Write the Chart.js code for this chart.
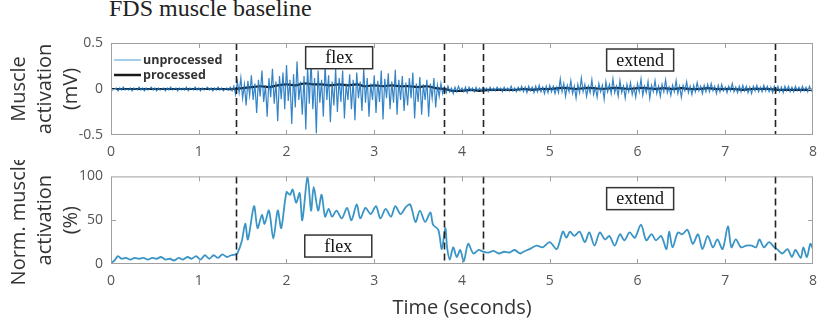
<!DOCTYPE html>
<html>
<head>
<meta charset="utf-8">
<title>FDS muscle baseline</title>
<script src="https://cdn.jsdelivr.net/npm/chart.js@4/dist/chart.umd.min.js"></script>
<style>
  html, body { margin: 0; padding: 0; background: #fff; }
  #wrap { position: relative; width: 826px; height: 321px; overflow: hidden; }
  #wrap canvas { position: absolute; left: 0; }
  #topChart { top: 0; }
  #bottomChart { top: 160px; }
  #title { position: absolute; left: 109px; top: -5px; font: 24px "Liberation Serif", "Times New Roman", serif; color: #222; white-space: nowrap; }
</style>
</head>
<body>
<div id="wrap">
  <div id="title">FDS muscle baseline</div>
  <canvas id="topChart" width="826" height="160"></canvas>
  <canvas id="bottomChart" width="826" height="161"></canvas>
</div>
<script>
// --- data ---
const xTicks = [0, 1, 2, 3, 4, 5, 6, 7, 8];
const eventTimes = [1.42, 3.79, 4.24, 7.57];   // dashed phase markers (s)

// raw EMG, one sample every 0.02 s from 0 to 8 s (mV)
const rawStep = 0.02;
const rawValues = [
  0.01,-0.01,0.00,0.01,-0.02,0.01,-0.01,0.02,-0.01,0.00,
  -0.01,0.01,-0.02,0.01,0.00,-0.01,0.02,-0.01,0.01,-0.02,
  0.01,-0.01,0.00,0.02,-0.01,0.01,-0.02,0.01,-0.01,0.00,
  0.01,-0.02,0.01,-0.01,0.02,-0.01,0.00,0.01,-0.02,0.01,
  -0.01,0.01,-0.01,0.02,-0.02,0.01,0.00,-0.01,0.02,-0.01,
  0.01,-0.02,0.01,-0.01,0.00,0.02,-0.01,0.01,-0.02,0.01,
  -0.01,0.02,-0.01,0.01,-0.02,0.00,0.01,-0.01,0.02,-0.02,
  0.03,-0.06,0.08,-0.04,0.12,-0.10,0.05,-0.18,0.09,-0.07,
  0.15,-0.12,0.06,-0.26,0.10,-0.08,0.20,-0.14,0.04,-0.30,
  0.12,-0.09,0.22,-0.16,0.08,-0.35,0.14,-0.11,0.18,-0.22,
  0.26,-0.13,0.10,-0.38,0.16,-0.20,0.30,-0.12,0.08,-0.28,
  0.14,-0.44,0.24,-0.16,0.32,-0.22,0.12,-0.48,0.20,-0.15,
  0.10,-0.30,0.26,-0.12,0.15,-0.36,0.08,-0.18,0.22,-0.25,
  0.12,-0.14,0.20,-0.32,0.06,-0.12,0.16,-0.22,0.10,-0.34,
  0.18,-0.10,0.08,-0.24,0.22,-0.15,0.12,-0.30,0.06,-0.12,
  0.15,-0.26,0.09,-0.14,0.20,-0.33,0.11,-0.10,0.17,-0.22,
  0.08,-0.15,0.21,-0.28,0.10,-0.12,0.14,-0.24,0.07,-0.18,
  0.12,-0.10,0.18,-0.32,0.06,-0.14,0.13,-0.28,0.05,-0.12,
  0.10,-0.30,0.06,-0.10,0.12,-0.20,0.04,-0.08,0.06,-0.05,
  0.02,-0.04,0.03,-0.03,0.01,-0.05,0.02,-0.03,0.03,-0.02,
  0.01,-0.03,0.02,-0.04,0.02,-0.02,0.01,-0.03,0.02,-0.02,
  0.01,-0.02,0.02,-0.01,0.01,-0.03,0.02,-0.02,0.01,-0.02,
  0.02,-0.01,0.01,-0.03,0.02,-0.02,0.01,-0.02,0.03,-0.02,
  0.01,-0.03,0.02,-0.02,0.03,-0.03,0.02,-0.04,0.03,-0.02,
  0.02,-0.04,0.03,-0.03,0.04,-0.03,0.02,-0.05,0.03,-0.04,
  0.04,-0.03,0.03,-0.05,0.02,-0.04,0.11,-0.03,0.06,-0.08,
  0.04,-0.03,0.09,-0.05,0.03,-0.10,0.05,-0.04,0.12,-0.03,
  0.05,-0.08,0.03,-0.04,0.10,-0.06,0.02,-0.09,0.06,-0.03,
  0.04,-0.11,0.08,-0.03,0.05,-0.05,0.11,-0.04,0.03,-0.08,
  0.09,-0.04,0.03,-0.10,0.05,-0.03,0.07,-0.06,0.02,-0.09,
  0.06,-0.03,0.11,-0.07,0.03,-0.04,0.08,-0.10,0.04,-0.03,
  0.09,-0.05,0.03,-0.08,0.05,-0.03,0.10,-0.04,0.02,-0.07,
  0.04,-0.03,0.09,-0.05,0.03,-0.09,0.04,-0.02,0.08,-0.04,
  0.03,-0.06,0.04,-0.03,0.07,-0.02,0.03,-0.05,0.04,-0.03,
  0.05,-0.03,0.06,-0.02,0.03,-0.05,0.04,-0.03,0.05,-0.02,
  0.02,-0.04,0.03,-0.02,0.06,-0.03,0.02,-0.04,0.03,-0.03,
  0.04,-0.02,0.03,-0.04,0.02,-0.05,0.03,-0.02,0.04,-0.03,
  0.02,-0.03,0.04,-0.02,0.03,-0.03,0.02,-0.04,0.03,-0.02,
  0.03,-0.03,0.02,-0.04,0.03,-0.02,0.03,-0.03,0.02,-0.03,
  0.03,-0.02,0.02,-0.03,0.03,-0.02,0.02,-0.03,0.03,-0.02,
  0.01
];

// processed (smoothed) signal, every 0.1 s (mV)
const procStep = 0.1;
const procValues = [
  0,0,0,0,0,0,0,0,0,0,0,0,0,0,0,
  0.01,0.02,0.03,0.02,0.04,0.05,0.04,0.06,0.05,0.05,
  0.04,0.05,0.04,0.05,0.03,0.04,0.03,0.04,0.03,0.03,
  0.02,0.03,0.01,0.00,-0.02,-0.02,-0.01,-0.02,-0.01,-0.01,
  -0.01,-0.01,0.00,-0.01,0.00,0.00,0.01,0.01,0.00,0.01,
  0.01,0.00,0.01,0.01,0.00,0.01,0.01,0.00,0.01,0.00,
  0.01,0.00,0.00,0.01,0.00,0.00,0.00,-0.01,0.00,0.00,
  0.00,-0.01,-0.01,-0.01,-0.01,-0.01
];

// normalised activation (%)
const normTime = [
  0,0.04,0.08,0.12,0.17,0.22,0.27,0.32,0.37,0.42,0.47,0.52,0.57,0.62,0.67,0.72,0.77,0.82,0.87,0.92,
  0.97,1.02,1.07,1.12,1.17,1.22,1.27,1.32,1.37,1.42,
  1.44,1.49,1.53,1.56,1.63,1.67,1.72,1.75,1.80,1.85,1.90,1.94,2.00,2.04,2.07,2.11,2.15,2.18,2.24,2.28,
  2.31,2.36,2.40,2.44,2.48,2.52,2.57,2.63,2.69,2.74,2.80,2.84,2.90,2.96,3.02,3.07,3.13,3.19,3.24,3.30,
  3.36,3.41,3.47,3.52,3.58,3.64,3.67,3.73,3.77,3.81,3.83,3.86,3.90,3.94,3.98,4.02,4.07,4.13,4.19,4.24,
  4.30,4.36,4.42,4.48,4.54,4.60,4.66,4.70,4.77,4.85,4.92,5.00,5.08,5.15,5.19,5.23,5.28,5.34,5.40,5.45,
  5.51,5.57,5.63,5.68,5.74,5.80,5.85,5.91,5.97,6.04,6.10,6.16,6.21,6.27,6.33,6.36,6.40,6.46,6.51,6.57,
  6.63,6.69,6.74,6.80,6.86,6.91,6.97,7.03,7.07,7.12,7.18,7.24,7.30,7.35,7.39,7.44,7.50,7.56,7.59,7.65,
  7.71,7.76,7.80,7.86,7.89,7.93,7.97,8.00
];
const normValue = [
  1,4,9,6,7,5,7,6,7,5,7,6,8,5,6,4,7,5,8,6,
  9,5,10,6,10,7,11,8,10,11,
  12,26,46,28,66,41,56,46,61,29,61,41,82,79,85,70,81,50,100,61,
  88,61,79,54,63,54,61,52,64,50,68,52,64,57,66,52,63,54,66,57,
  65,68,48,61,48,59,45,39,17,41,19,5,19,8,16,3,23,12,16,14,
  13,15,12,14,13,16,12,14,17,21,19,25,17,37,30,37,32,37,25,36,
  21,36,28,32,21,34,27,36,30,45,27,34,27,32,17,37,19,36,34,39,
  23,34,17,32,19,28,17,43,19,28,19,21,21,19,28,19,25,19,17,12,
  17,8,16,7,19,8,23,17
];

// --- helpers ---
const tickFont = { family: 'Open Sans', size: 14 };
const labelFont = { family: 'Open Sans', size: 20, lineHeight: 1.3 };

function series(values, step) {
  return values.map((v, i) => ({ x: +(i * step).toFixed(3), y: v }));
}

// MATLAB-like box: frame, inward ticks, dashed phase lines, text boxes, legend
const framePlugin = {
  id: 'frame',
  afterDatasetsDraw(chart, args, opts) {
    const { ctx, chartArea: a, scales: { x, y } } = chart;
    ctx.save();

    ctx.strokeStyle = '#222';
    ctx.lineWidth = 1.6;
    ctx.setLineDash([7, 4]);
    (opts.events || []).forEach(t => {
      const px = Math.round(x.getPixelForValue(t)) + 0.5;
      ctx.beginPath(); ctx.moveTo(px, a.top); ctx.lineTo(px, a.bottom); ctx.stroke();
    });
    ctx.setLineDash([]);

    ctx.strokeStyle = '#a0a0a0';
    ctx.lineWidth = 1;
    ctx.strokeRect(a.left + 0.5, a.top + 0.5, a.width - 1, a.height - 1);
    x.ticks.forEach(t => {
      if (t.value <= x.min || t.value >= x.max) return;
      const px = Math.round(x.getPixelForValue(t.value)) + 0.5;
      ctx.beginPath();
      ctx.moveTo(px, a.top); ctx.lineTo(px, a.top + 5);
      ctx.moveTo(px, a.bottom); ctx.lineTo(px, a.bottom - 5);
      ctx.stroke();
    });
    y.ticks.forEach(t => {
      if (t.value <= y.min || t.value >= y.max) return;
      const py = Math.round(y.getPixelForValue(t.value)) + 0.5;
      ctx.beginPath();
      ctx.moveTo(a.left, py); ctx.lineTo(a.left + 5, py);
      ctx.moveTo(a.right, py); ctx.lineTo(a.right - 5, py);
      ctx.stroke();
    });

    (opts.boxes || []).forEach(b => {
      const cx = x.getPixelForValue(b.x), cy = y.getPixelForValue(b.y);
      const w = 67, h = 22;
      ctx.fillStyle = '#fff';
      ctx.fillRect(cx - w / 2, cy - h / 2, w, h);
      ctx.strokeStyle = '#333';
      ctx.lineWidth = 1.5;
      ctx.strokeRect(cx - w / 2, cy - h / 2, w, h);
      ctx.fillStyle = '#111';
      ctx.font = '18px "Liberation Serif", serif';
      ctx.textAlign = 'center';
      ctx.textBaseline = 'middle';
      ctx.fillText(b.text, cx, cy + 1);
    });

    (opts.legend || []).forEach((item, i) => {
      const ly = a.top + 17 + i * 15;
      ctx.strokeStyle = item.color;
      ctx.lineWidth = item.width;
      ctx.beginPath(); ctx.moveTo(a.left + 3, ly); ctx.lineTo(a.left + 30, ly); ctx.stroke();
      ctx.fillStyle = '#333';
      ctx.font = 'bold 12.5px "Open Sans"';
      ctx.textAlign = 'left';
      ctx.textBaseline = 'middle';
      ctx.fillText(item.label, a.left + 32, ly);
    });

    ctx.restore();
  }
};

function baseOptions(yMin, yMax, yStep, yTitle, padTop, xHeight, xTitle) {
  return {
    responsive: false,
    animation: false,
    devicePixelRatio: 1,
    layout: { padding: { top: padTop, right: 7, left: 0, bottom: 0 } },
    plugins: { legend: { display: false }, tooltip: { enabled: false } },
    scales: {
      x: {
        type: 'linear', min: 0, max: 8,
        afterBuildTicks: s => { s.ticks = xTicks.map(v => ({ value: v })); },
        grid: { display: false, drawTicks: false },
        border: { display: false },
        ticks: { color: '#555', font: tickFont, padding: 9, maxRotation: 0 },
        title: xTitle ? { display: true, text: xTitle, color: '#333', font: labelFont, padding: { top: 0, bottom: 0 } } : { display: false },
        afterFit: s => { s.height = xHeight; }
      },
      y: {
        min: yMin, max: yMax,
        grid: { display: false, drawTicks: false },
        border: { display: false },
        ticks: { stepSize: yStep, color: '#555', font: tickFont, padding: 8 },
        title: { display: true, text: yTitle, color: '#333', font: labelFont, padding: { top: 6, bottom: 0 } },
        afterFit: s => { s.width = 111; }
      }
    }
  };
}

// --- top: raw and processed EMG ---
const topOpts = baseOptions(-0.5, 0.5, 0.5, ['Muscle', 'activation', '(mV)'], 43, 25, null);
topOpts.plugins.frame = {
  events: eventTimes,
  boxes: [{ text: 'flex', x: 2.6, y: 0.34 }, { text: 'extend', x: 6.03, y: 0.315 }],
  legend: [
    { label: 'unprocessed', color: '#86bfe6', width: 1.5 },
    { label: 'processed', color: '#1a1a1a', width: 2.5 }
  ]
};
new Chart(document.getElementById('topChart'), {
  type: 'line',
  data: {
    datasets: [
      { label: 'unprocessed', data: series(rawValues, rawStep), borderColor: 'rgba(30,118,192,0.9)', borderWidth: 1.2, pointRadius: 0, tension: 0 },
      { label: 'processed', data: series(procValues, procStep), borderColor: '#141414', borderWidth: 2.2, pointRadius: 0, tension: 0.3 }
    ]
  },
  options: topOpts,
  plugins: [framePlugin]
});

// --- bottom: normalised activation ---
const bottomOpts = baseOptions(0, 100, 50, ['Norm. muscle', 'activation', '(%)'], 13, 57, 'Time (seconds)');
bottomOpts.plugins.frame = {
  events: eventTimes,
  boxes: [{ text: 'flex', x: 2.59, y: 20.5 }, { text: 'extend', x: 6.03, y: 74.6 }]
};
new Chart(document.getElementById('bottomChart'), {
  type: 'line',
  data: {
    datasets: [{
      label: 'activation',
      data: normTime.map((t, i) => ({ x: t, y: normValue[i] })),
      borderColor: '#3a95c6', borderWidth: 1.8, pointRadius: 0, tension: 0.3
    }]
  },
  options: bottomOpts,
  plugins: [framePlugin]
});
</script>
</body>
</html>
